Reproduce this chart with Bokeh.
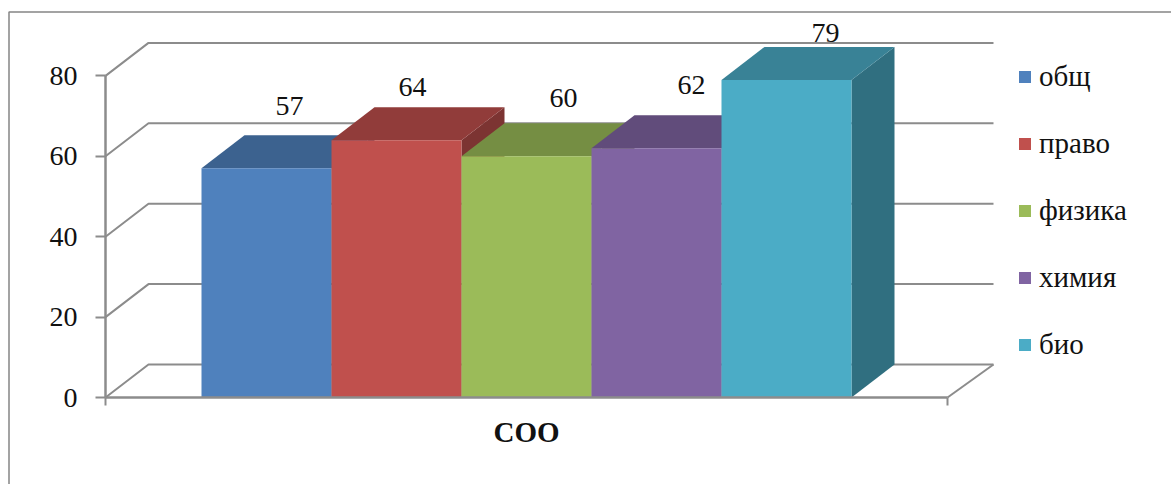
from bokeh.core.properties import value
from bokeh.embed import file_html
from bokeh.models import (ColumnDataSource, FixedTicker, Legend, LegendItem, LinearAxis,
                          Range1d)
from bokeh.plotting import figure
from bokeh.resources import INLINE

# --- data ---
category = "СОО"
series = ["общ", "право", "физика", "химия", "био"]
values = [57, 64, 60, 62, 79]
colors = ["#4f81bd", "#c0504d", "#9bbb59", "#8064a2", "#4bacc6"]
y_ticks = [0, 20, 40, 60, 80]

# --- layout ---
WIDTH, HEIGHT = 1171, 484
LEFT, BOTTOM = 105, 87         # position of the chart's origin inside the figure
PX_PER_VALUE = 4.02
PX_PER_BAR = 130
AXIS_PX = 842                  # length of the front floor edge
DEPTH_PX_X, DEPTH_PX_Y = 43, 33
WALL_PX_X = 46                 # back wall runs slightly further on the right
FIRST_BAR_PX = 96              # gap from the axis to the first bar
GRID = "#8c8c8c"
SERIF = "Liberation Serif"

x0 = -FIRST_BAR_PX / PX_PER_BAR
x1 = x0 + AXIS_PX / PX_PER_BAR
dx = DEPTH_PX_X / PX_PER_BAR
dy = DEPTH_PX_Y / PX_PER_VALUE
wall_right = x1 + WALL_PX_X / PX_PER_BAR
x_start = x0 - LEFT / PX_PER_BAR
x_end = x_start + WIDTH / PX_PER_BAR
y_start = -BOTTOM / PX_PER_VALUE
y_end = y_start + HEIGHT / PX_PER_VALUE

p = figure(width=WIDTH, height=HEIGHT, output_backend="svg", toolbar_location=None,
           x_axis_location=None, y_axis_location=None,
           min_border_left=0, min_border_bottom=0, min_border_top=0, min_border_right=0,
           x_range=Range1d(x_start, x_end), y_range=Range1d(y_start, y_end))
p.grid.visible = False
p.outline_line_color = None
p.background_fill_color = "white"
p.border_fill_color = "white"

# chart area frame: only its left and top edges are on the page
frame_x = x_start + 8.5 / PX_PER_BAR
frame_y = y_end - 11.5 / PX_PER_VALUE
p.line([frame_x, frame_x, x_end], [y_start, frame_y, frame_y], line_color="#858585", line_width=1.5)

# walls and floor
p.multi_line(xs=[[x0, x0 + dx, wall_right] for _ in y_ticks],
             ys=[[t, t + dy, t + dy] for t in y_ticks],
             line_color=GRID, line_width=2)
p.line([x1, wall_right], [0, dy], line_color=GRID, line_width=2)


def shade(hex_color, f):
    r, g, b = (int(hex_color[i:i + 2], 16) for i in (1, 3, 5))
    return f"#{int(r * f):02x}{int(g * f):02x}{int(b * f):02x}"


# bars, painted left to right
items = []
for i, (name, v, c) in enumerate(zip(series, values, colors)):
    p.patch([i + 1, i + 1 + dx, i + 1 + dx, i + 1], [0, dy, v + dy, v], fill_color=shade(c, 0.65), line_color=None)
    p.patch([i, i + dx, i + 1 + dx, i + 1], [v, v + dy, v + dy, v], fill_color=shade(c, 0.76), line_color=None)
    r = p.quad(left=i, right=i + 1, bottom=0, top=v, fill_color=c, line_color=None)
    items.append(LegendItem(label=name, renderers=[r]))

# data labels: hand placed in the reference
label_dx = [23, 16, 37, 35, 39]
label_dy = [-62, -53, -58, -63, -47]
src = ColumnDataSource(dict(x=[i + 0.5 for i in range(len(values))], y=values, t=[str(v) for v in values],
                            xo=label_dx, yo=label_dy))
p.text("x", "y", text="t", x_offset="xo", y_offset="yo", source=src, text_align="center", text_baseline="middle",
       text_font=value(SERIF), text_font_size="28px", text_color="#111111")

# axes
yax = LinearAxis(ticker=FixedTicker(ticks=y_ticks), bounds=(0, 80), fixed_location=x0)
yax.axis_line_color = GRID
yax.axis_line_width = 2.5
yax.major_tick_line_color = GRID
yax.major_tick_line_width = 2
yax.major_tick_out = 10
yax.major_tick_in = 0
yax.minor_tick_line_color = None
yax.major_label_standoff = 18
yax.major_label_text_font = SERIF
yax.major_label_text_font_size = "28px"
yax.major_label_text_color = "#111111"
p.add_layout(yax, "left")

xax = LinearAxis(ticker=FixedTicker(ticks=[len(values) / 2], minor_ticks=[x0, x1]), bounds=(x0, x1), fixed_location=0)
xax.major_label_overrides = {len(values) / 2: category}
xax.axis_line_color = GRID
xax.axis_line_width = 2.5
xax.major_tick_line_color = None
xax.minor_tick_line_color = GRID
xax.minor_tick_line_width = 2
xax.minor_tick_out = 8
xax.minor_tick_in = 0
xax.major_label_standoff = 10
xax.major_label_text_font = SERIF
xax.major_label_text_font_size = "29px"
xax.major_label_text_font_style = "bold"
xax.major_label_text_color = "#111111"
p.add_layout(xax, "below")

legend = Legend(items=items, location=(1017, 123), orientation="vertical", padding=0, margin=0,
                glyph_width=15, glyph_height=15, label_standoff=7, spacing=34,
                background_fill_alpha=0, border_line_color=None,
                label_text_font=SERIF, label_text_font_size="29px", label_text_color="#111111")
p.add_layout(legend, "center")

open("out.html", "w").write(file_html(p, INLINE))
